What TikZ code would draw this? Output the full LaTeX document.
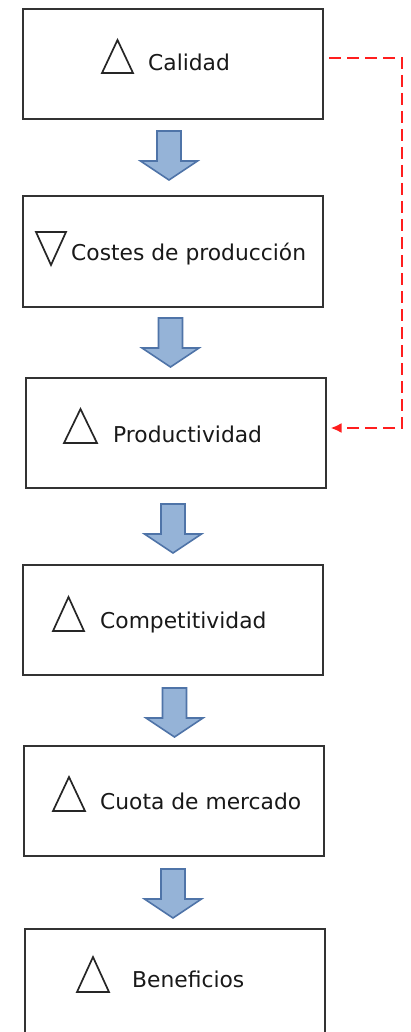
\documentclass[tikz,border=0pt]{standalone}
\usepackage{fontspec}
\setmainfont{DejaVu Sans}
\usetikzlibrary{arrows.meta,calc}
\definecolor{boxline}{RGB}{51,51,51}
\definecolor{arrfill}{RGB}{149,179,215}
\definecolor{arrline}{RGB}{79,116,168}
\definecolor{fbred}{RGB}{255,30,30}
\newcommand{\blockarr}[3]{% cx, top, name
  \draw[barrow] (#1-12,#2) -- (#1+12,#2) -- (#1+12,#2+30) -- (#1+28.5,#2+30)
    -- (#1,#2+49) -- (#1-28.5,#2+30) -- (#1-12,#2+30) -- cycle;}
\begin{document}
\begin{tikzpicture}[x=1pt,y=-1pt,
  box/.style={draw=boxline,line width=2pt,fill=white,minimum width=300pt,minimum height=110pt,inner sep=0pt},
  lbl/.style={anchor=base west,inner sep=0pt,font=\fontsize{21.8}{26}\selectfont,text=black!90},
  tri/.style={draw=black!85,line width=1.7pt,line join=miter},
  barrow/.style={fill=arrfill,draw=arrline,line width=1.6pt,line join=miter},
  fb/.style={draw=fbred,line width=2.3pt,dash pattern=on 12pt off 6pt}]
\useasboundingbox (0,0) rectangle (410,1032);
\fill[white] (0,0) rectangle (410,1032);
% boxes
\node[box] (b1) at (173,64) {};
\node[box] (b2) at (173,251.5) {};
\node[box] (b3) at (175.5,433) {};
\node[box] (b4) at (173,619.5) {};
\node[box] (b5) at (174,800.5) {};
\node[box] (b6) at (174.5,984) {};
% labels
\node[lbl] (t1) at (148,71) {Calidad};
\node[lbl] (t2) at (71,260) {Costes de producción};
\node[lbl] (t3) at (113,442) {Productividad};
\node[lbl] (t4) at (100,628) {Competitividad};
\node[lbl] (t5) at (100,809) {Cuota de mercado};
\node[lbl] (t6) at (132,987) {Beneficios};
% triangles
\draw[tri] (102,73) -- (117.5,40) -- (133,73) -- cycle;
\draw[tri] (36,232) -- (66,232) -- (51,265) -- cycle;
\draw[tri] (64,443) -- (80.5,409) -- (97,443) -- cycle;
\draw[tri] (53,631) -- (68.5,597) -- (84,631) -- cycle;
\draw[tri] (53,811) -- (69,777) -- (85,811) -- cycle;
\draw[tri] (77,992) -- (93,957) -- (109,992) -- cycle;
% block arrows
\blockarr{169}{131}{a1}
\blockarr{170.5}{318}{a2}
\blockarr{173}{504}{a3}
\blockarr{174.5}{688}{a4}
\blockarr{173}{869}{a5}
% feedback
\coordinate (fbs) at ([xshift=5pt,yshift=6pt]b1.east);
\coordinate (fbc) at (402,58);
\coordinate (fbe) at ([xshift=4pt,yshift=5pt]b3.east);
\draw[fb,-{Latex[length=11pt,width=10pt]}] (fbs) -- (fbc) |- (fbe);
\end{tikzpicture}
\end{document}
